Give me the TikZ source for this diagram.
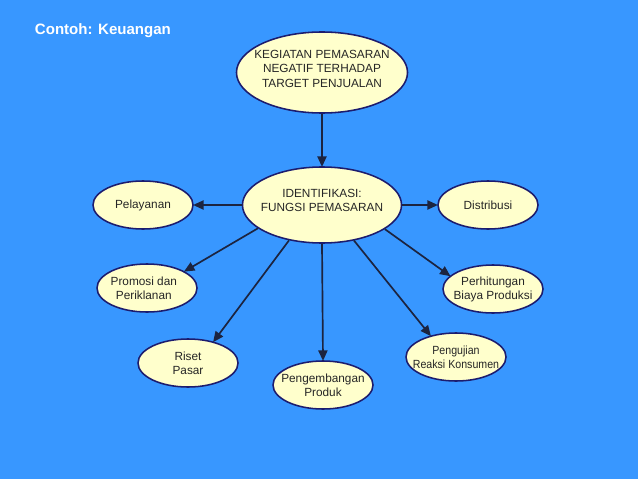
\documentclass[tikz,border=0pt]{standalone}
\usepackage{fontspec}
\setmainfont{Liberation Sans}
\usetikzlibrary{arrows.meta,shapes.geometric}
\definecolor{SlideBlue}{RGB}{56,151,255}
\definecolor{BubbleFill}{RGB}{255,255,204}
\definecolor{BubbleLine}{RGB}{28,28,110}
\definecolor{ArrowColor}{RGB}{28,36,64}
\tikzset{
  bubble/.style={ellipse, draw=BubbleLine, line width=1.1pt, fill=BubbleFill, inner sep=0pt,
    minimum width=2.5cm, minimum height=1.2cm},
  lbl/.style={align=center, text=black!85, font=\fontsize{8.4}{10}\selectfont},
  link/.style={-{Triangle[length=7.5pt,width=6.5pt]}, draw=ArrowColor, line width=1.2pt, shorten >=-0.5pt}
}
\begin{document}
\begin{tikzpicture}[x=0.025cm, y=-0.025cm]
  \fill[SlideBlue] (0,0) rectangle (638,479);
  \useasboundingbox (0,0) rectangle (638,479);
  \node[anchor=west, text=white, font=\fontsize{10.7}{12}\selectfont\bfseries] (title) at (30,31) {Contoh: Keuangan};
  % top and centre
  \node[bubble, minimum width=4.275cm, minimum height=2.025cm,
    label={[lbl, yshift=0.09cm]center:{KEGIATAN PEMASARAN\\NEGATIF TERHADAP\\TARGET PENJUALAN}}] (kegiatan) at (322,72.5) {};
  \node[bubble, minimum width=3.975cm, minimum height=1.9cm,
    label={[lbl, yshift=0.125cm]center:{IDENTIFIKASI:\\FUNGSI PEMASARAN}}] (fungsi) at (322,205) {};
  % fungsi pemasaran
  \node[bubble, label={[lbl]center:Pelayanan}] (pelayanan) at (143,205) {};
  \node[bubble, label={[lbl]center:Distribusi}] (distribusi) at (488,205) {};
  \node[bubble, label={[lbl, xshift=-0.08cm]center:{Promosi dan\\Periklanan}}] (promosi) at (147,288) {};
  \node[bubble, label={[lbl]center:{Perhitungan\\Biaya Produksi}}] (biaya) at (493,289) {};
  \node[bubble, label={[lbl]center:{Riset\\Pasar}}] (riset) at (188,363) {};
  \node[bubble, label={[lbl]center:{Pengembangan\\Produk}}] (produk) at (323,385) {};
  \node[bubble, label={[lbl]center:{\scalebox{0.9}[1]{Pengujian}\\\scalebox{0.9}[1]{Reaksi Konsumen}}}] (pengujian) at (456,357) {};
  \draw[link] (kegiatan.south) -- (fungsi.north);
  \draw[link] (fungsi) -- (pelayanan);
  \draw[link] (fungsi) -- (distribusi);
  \draw[link] (fungsi.200) -- (promosi.24);
  \draw[link] (fungsi.339) -- (biaya.163);
  \draw[link] (fungsi.227) -- (riset.40);
  \draw[link] (fungsi.south) -- (produk.north);
  \draw[link] (fungsi.312) -- (pengujian.140);
\end{tikzpicture}
\end{document}
